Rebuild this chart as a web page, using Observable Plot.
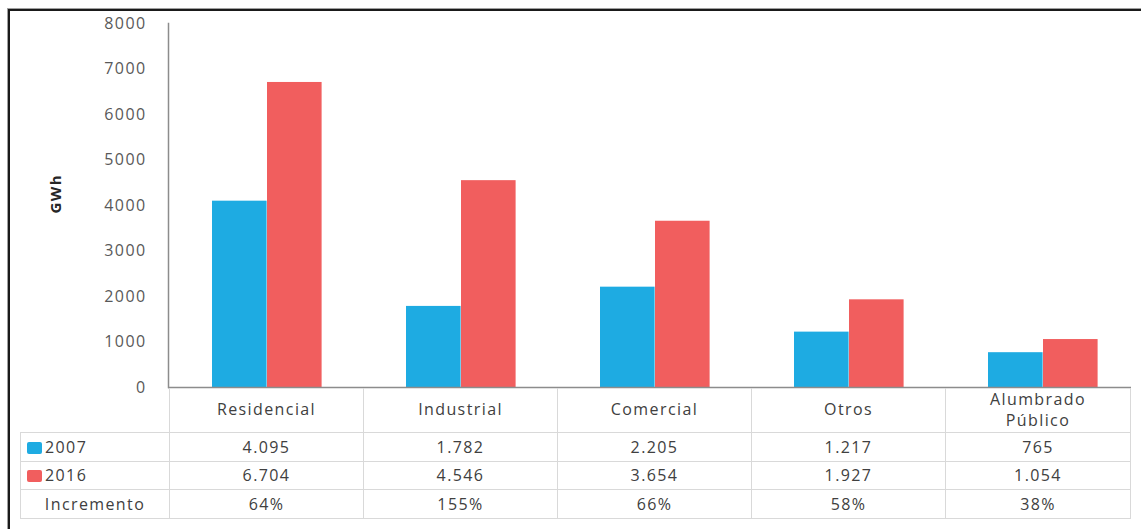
<!DOCTYPE html>
<html><head><meta charset="utf-8">
<script src="https://cdn.jsdelivr.net/npm/d3@7"></script>
<script src="https://cdn.jsdelivr.net/npm/@observablehq/plot@0.6"></script>
<style>
body{margin:0;background:#fff;}
#wrap{position:relative;width:1141px;height:529px;overflow:hidden;font-family:"Open Sans",sans-serif;background:#fff;}
#frame{position:absolute;left:8px;top:9px;width:1200px;height:600px;border-top:2px solid #1a1a1a;border-left:2px solid #1a1a1a;box-shadow:-1px -1px 0 #a0a0a0;}
#chart{position:absolute;left:0;top:0;}
#tbl{position:absolute;left:20px;top:388px;border-collapse:collapse;table-layout:fixed;color:#404040;font-size:16px;letter-spacing:1.4px;font-family:"Open Sans",sans-serif;}
#tbl td{border:1px solid #d9d9d9;text-align:center;padding:0;white-space:nowrap;}
#tbl tr.head td{border-top:none;line-height:21px;}
#tbl tr.head td.blank{border:none;border-right:1px solid #d9d9d9;}
.sw{display:inline-block;width:15px;height:12px;border-radius:2px;margin-right:3px;vertical-align:-1px;}
</style></head><body>
<div id="wrap"><div id="frame"></div><div id="chart"></div></div>
<script>
const categories = ["Residencial","Industrial","Comercial","Otros","Alumbrado Público"];
const headerLines = [["Residencial"],["Industrial"],["Comercial"],["Otros"],["Alumbrado","Público"]];
const years = ["2007","2016"];
const values2007 = [4095,1782,2205,1217,765];
const values2016 = [6704,4546,3654,1927,1054];
const labels2007 = ["4.095","1.782","2.205","1.217","765"];
const labels2016 = ["6.704","4.546","3.654","1.927","1.054"];
const increments = ["64%","155%","66%","58%","38%"];
const yTicks = [0,1000,2000,3000,4000,5000,6000,7000,8000];
const colors = ["#1eabe2","#f15e5e"];
const rowLabel3 = "Incremento";

const rows = categories.flatMap((c,i)=>[
  {category:c, year:years[0], value:values2007[i]},
  {category:c, year:years[1], value:values2016[i]}
]);

const plot = Plot.plot({
  width:1141, height:388,
  marginLeft:168, marginRight:10, marginTop:23, marginBottom:1,
  style:{fontFamily:"Open Sans, sans-serif", fontSize:"16px", color:"#595959", background:"transparent", letterSpacing:"1.4px", overflow:"visible"},
  x:{domain:categories, range:[168,1140], padding:0, axis:null},
  y:{domain:[0,8000], axis:null},
  color:{domain:years, range:colors},
  marks:[
    Plot.barY(rows.filter(d=>d.year===years[0]), {x:"category", y:"value", fill:"year", insetLeft:43, insetRight:96.4}),
    Plot.barY(rows.filter(d=>d.year===years[1]), {x:"category", y:"value", fill:"year", insetLeft:98, insetRight:41.4}),
    Plot.axisY({ticks:yTicks, tickSize:0, tickPadding:22, tickFormat:d3.format("d"), label:null, fill:"#595959"}),
    Plot.frame({anchor:"left", stroke:"#8c8c8c", strokeWidth:1.5}),
    Plot.ruleY([0], {stroke:"#8c8c8c", strokeWidth:1.5}),
    Plot.text(["GWh"], {frameAnchor:"left", dx:-112, dy:8, rotate:-90, fontSize:15, fontWeight:"bold", fill:"#262626", style:"letter-spacing:0.5px"})
  ]
});
document.getElementById("chart").appendChild(plot);

// data table aligned with the x scale
const xs = plot.scale("x");
const rightEdge = 1130;
const colW = categories.map((c,i)=>{
  const s = xs.apply(c);
  return Math.min(s + xs.bandwidth, rightEdge) - s;
});
const leftW = xs.apply(categories[0]) - 20;
const tbl = document.createElement("table");
tbl.id = "tbl";
const cg = document.createElement("colgroup");
[leftW, ...colW].forEach(w=>{const c=document.createElement("col"); c.style.width=w+"px"; cg.appendChild(c);});
tbl.appendChild(cg);
function addRow(cls, h, first, cells){
  const tr = document.createElement("tr");
  if(cls) tr.className = cls;
  tr.style.height = h+"px";
  const td0 = document.createElement("td");
  if(first===null){ td0.className="blank"; }
  else td0.appendChild(first);
  tr.appendChild(td0);
  cells.forEach(v=>{const td=document.createElement("td"); td.innerHTML=v; tr.appendChild(td);});
  tbl.appendChild(tr);
}
function legendCell(i){
  const f = document.createElement("div");
  f.style.textAlign="left"; f.style.paddingLeft="6px";
  const sw = document.createElement("span"); sw.className="sw"; sw.style.background=colors[i];
  f.appendChild(sw); f.appendChild(document.createTextNode(years[i]));
  return f;
}
addRow("head", 44, null, headerLines.map(l=>l.join("<br>")));
addRow("", 29, legendCell(0), labels2007);
addRow("", 28, legendCell(1), labels2016);
const inc = document.createElement("div"); inc.textContent = rowLabel3;
addRow("", 29, inc, increments);
document.getElementById("wrap").appendChild(tbl);
</script>
</body></html>
